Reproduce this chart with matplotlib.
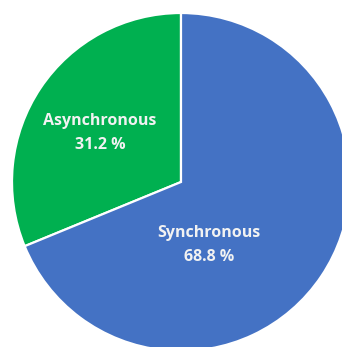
import matplotlib.pyplot as plt

labels = ['Asynchronous', 'Synchronous']
shares = [31.2, 68.8]
colors = ['#00B050', '#4472C4']
# label anchor points, as (x, y) offsets from the pie centre in pixels
label_pos = [(-81, 49), (28, -63)]

W, H = 342, 347
cx, cy, R = 181, 182, 169


def main():
    fig = plt.figure(figsize=(W / 100, H / 100), dpi=100)
    ax = fig.add_axes([0, 0, 1, 1])

    ax.pie(shares, colors=colors, startangle=90, counterclock=True,
           radius=R, wedgeprops=dict(edgecolor='white', linewidth=1.6))

    for name, val, (x, y) in zip(labels, shares, label_pos):
        ax.text(x, y, f'{name}\n{val:.1f} %', ha='center', va='center',
                color='#F2F2F2', fontsize=11.5, fontweight='bold',
                family='Open Sans', linespacing=1.6)

    ax.set_xlim(-cx, W - cx)
    ax.set_ylim(-(H - cy), cy)
    ax.set_aspect('equal')
    ax.axis('off')
    fig.savefig('out.png', dpi=100, facecolor='white')


if __name__ == '__main__':
    main()
